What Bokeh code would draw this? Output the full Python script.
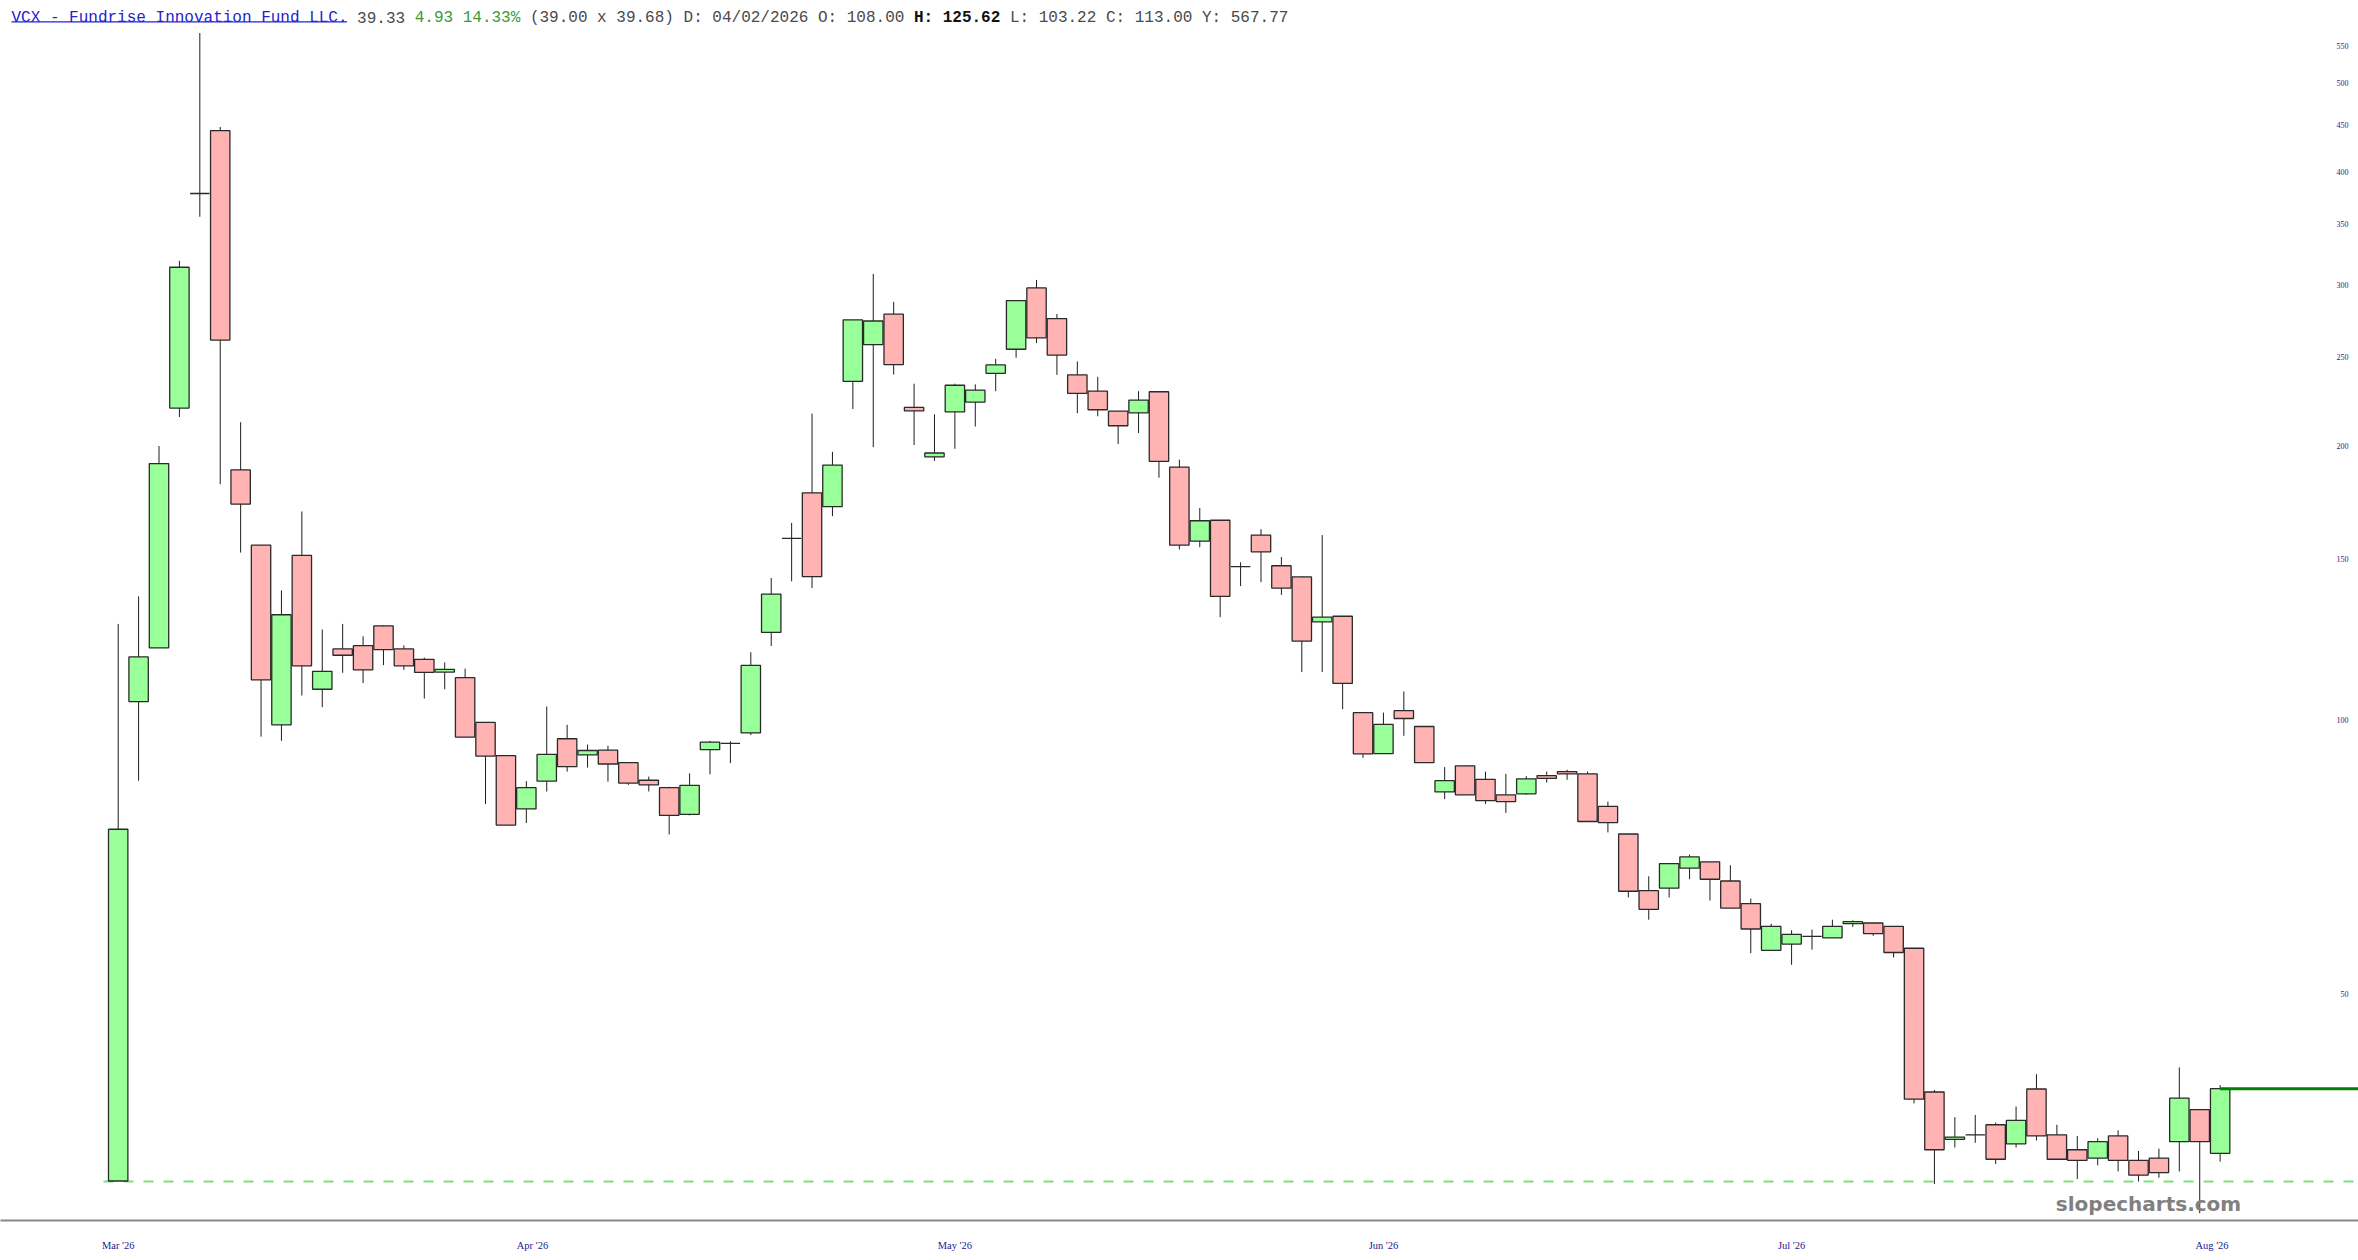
import numpy as np
from bokeh.plotting import figure
from bokeh.models import (Range1d, ColumnDataSource, FixedTicker, Label,
                          LabelSet, BoxAnnotation)
from bokeh.embed import file_html
from bokeh.resources import INLINE

# ---------------- data ----------------
opens = [31.14, 104.7, 119.9, 219.9, 378.4, 443.6, 188.1, 155.5, 98.7, 151.5,
         108.0, 119.6, 120.6, 126.8, 119.6, 116.5, 112.8, 111.2, 99.3, 91.3,
         79.8, 85.6, 95.3, 91.5, 92.6, 89.7, 85.8, 84.2, 78.7, 92.7,
         94.2, 96.7, 124.7, 158.2, 177.5, 171.4, 235.3, 258.2, 278.9, 220.3,
         194.4, 217.8, 223.3, 240.1, 255.2, 298.0, 275.8, 239.2, 229.5, 218.2,
         217.3, 229.2, 189.4, 157.1, 165.6, 147.3, 159.5, 147.6, 143.5, 128.1,
         129.9, 101.8, 91.8, 102.3, 98.3, 83.3, 89.0, 86.0, 82.7, 82.9,
         86.8, 87.7, 87.2, 80.3, 74.9, 64.9, 65.3, 68.7, 69.8, 66.5,
         62.8, 55.8, 56.7, 57.8, 57.6, 59.7, 59.8, 59.3, 56.1, 39.0,
         34.6, 35.0, 35.9, 34.2, 39.3, 35.0, 33.7, 33.0, 34.9, 32.8,
         33.0, 34.4, 37.3, 33.4]
highs = [127.4, 136.6, 199.8, 319.2, 567.77, 447.8, 212.2, 155.5, 138.7, 169.3,
         125.62, 127.4, 123.5, 127.0, 120.7, 117.0, 115.6, 113.8, 99.3, 91.3,
         85.6, 103.4, 98.7, 93.9, 93.6, 89.7, 86.6, 84.4, 87.3, 94.8,
         94.7, 118.6, 143.1, 164.5, 216.9, 196.9, 274.9, 308.8, 287.7, 233.9,
         216.5, 233.9, 233.5, 249.1, 288.6, 304.1, 279.0, 247.4, 238.0, 218.2,
         229.5, 229.2, 193.0, 170.8, 165.6, 148.9, 161.9, 150.9, 143.7, 159.5,
         129.9, 101.8, 101.8, 107.4, 98.3, 88.7, 89.0, 87.7, 87.2, 86.7,
         87.7, 88.1, 87.7, 81.3, 74.9, 67.3, 69.5, 71.1, 69.8, 69.2,
         63.6, 59.7, 58.7, 58.8, 60.3, 60.2, 59.8, 59.3, 56.1, 39.2,
         36.6, 36.8, 36.1, 37.6, 40.8, 35.9, 34.9, 34.7, 35.4, 33.6,
         33.8, 41.5, 37.3, 39.68]
lows = [31.14, 85.7, 119.9, 215.0, 356.8, 181.4, 152.6, 95.8, 94.8, 106.3,
        103.22, 112.6, 109.7, 114.8, 113.4, 105.5, 108.0, 95.7, 80.8, 76.6,
        77.0, 83.4, 87.7, 88.6, 85.5, 84.8, 83.4, 74.8, 78.5, 87.1,
        89.6, 96.2, 120.5, 141.9, 139.5, 167.3, 219.4, 199.2, 239.4, 200.3,
        192.4, 198.4, 209.9, 229.5, 249.8, 259.2, 239.2, 217.1, 215.4, 200.8,
        206.5, 184.4, 153.8, 154.7, 129.6, 140.2, 141.6, 137.1, 112.8, 112.8,
        102.7, 90.8, 91.8, 96.0, 89.7, 81.8, 82.7, 80.8, 79.0, 82.7,
        85.3, 85.9, 77.3, 75.2, 63.8, 60.3, 63.8, 66.8, 63.3, 62.1,
        55.4, 55.8, 53.8, 55.9, 57.6, 59.2, 57.9, 54.8, 37.9, 30.9,
        33.9, 34.3, 32.5, 33.9, 34.5, 32.9, 31.3, 32.4, 31.9, 31.1,
        31.4, 31.9, 28.7, 32.7]
closes = [75.8, 117.2, 191.1, 314.0, 378.4, 261.2, 172.5, 110.6, 130.4, 114.6,
          113.0, 117.7, 113.4, 119.4, 114.6, 112.7, 113.6, 95.7, 91.2, 76.6,
          84.2, 91.6, 88.8, 92.5, 89.4, 85.2, 84.8, 78.5, 84.7, 94.5,
          94.2, 114.7, 137.4, 158.2, 143.6, 190.4, 274.9, 274.1, 245.5, 218.4,
          196.3, 233.0, 230.1, 245.3, 288.6, 262.7, 251.5, 228.3, 219.0, 210.3,
          224.4, 192.2, 155.5, 165.4, 136.6, 147.3, 152.9, 139.5, 122.0, 129.6,
          109.6, 91.7, 98.8, 100.3, 89.7, 85.7, 82.7, 81.5, 81.3, 86.1,
          86.2, 87.2, 77.3, 77.1, 64.8, 61.9, 69.5, 70.7, 66.8, 62.1,
          58.9, 59.3, 58.1, 57.8, 59.3, 60.0, 58.2, 55.5, 38.3, 33.7,
          34.8, 35.0, 32.9, 36.3, 34.9, 32.9, 32.8, 34.4, 32.8, 31.6,
          31.8, 38.4, 34.40, 39.33]

month_ticks = [0, 20.3, 41.0, 62.0, 82.0, 102.6]
month_labels = ["Mar '26", "Apr '26", "May '26", "Jun '26", "Jul '26", "Aug '26"]
price_ticks = [50, 100, 150, 200, 250, 300, 350, 400, 450, 500, 550]
support_level = 31.1
last_price = 39.33

header_parts = [
    ("VCX - Fundrise Innovation Fund LLC.", 0, "#2323d2", "normal"),
    ("39.33", 36, "#4a4a4a", "normal"),
    ("4.93 14.33%", 42, "#3a9a3a", "normal"),
    ("(39.00 x 39.68) D: 04/02/2026 O: 108.00", 54, "#4a4a4a", "normal"),
    ("H: 125.62", 94, "#111111", "bold"),
    ("L: 103.22 C: 113.00 Y: 567.77", 104, "#4a4a4a", "normal"),
]

# ---------------- figure ----------------
W, H = 2358, 1260
BOTTOM = 40
FRAME_H = H - BOTTOM

o = np.array(opens); h = np.array(highs); l = np.array(lows); c = np.array(closes)
idx = np.arange(len(o))
up = c >= o
fill = np.where(up, "#99ff99", "#ffb3b3")

src = ColumnDataSource(dict(x=idx, high=h, low=l,
                            top=np.maximum(o, c), bottom=np.minimum(o, c),
                            fill=fill))

p = figure(width=W, height=H,
           x_range=Range1d(-5.767, 109.78),
           y_range=Range1d(28.18, 616.5),
           y_axis_type="log", y_axis_location=None,
           toolbar_location=None, output_backend="svg",
           min_border_left=0, min_border_right=0, min_border_top=0,
           min_border_bottom=BOTTOM)
p.outline_line_color = None
p.background_fill_color = "white"
p.border_fill_color = "white"
for g in p.grid:
    g.visible = False

# support (dashed) line
x_end = p.x_range.end
p.segment(x0=[idx[0] - 0.72], x1=[x_end], y0=[support_level], y1=[support_level],
          line_color="#7fdf7f", line_width=2, line_dash="10 10")

# wicks
p.segment(x0="x", x1="x", y0="low", y1="high", source=src,
          line_color="#1e1e1e", line_width=1)
# bodies
p.vbar(x="x", width=0.95, top="top", bottom="bottom", source=src,
       fill_color="fill", line_color="#2a2a2a", line_width=1.3)

# last-price line
p.segment(x0=[idx[-1]], x1=[x_end], y0=[last_price], y1=[last_price],
          line_color="#008000", line_width=3)

# x axis
ax = p.xaxis[0]
ax.ticker = FixedTicker(ticks=month_ticks)
ax.major_label_overrides = {t: s for t, s in zip(month_ticks, month_labels)}
ax.major_label_text_font = "Liberation Serif"
ax.major_label_text_font_size = "10.5px"
ax.major_label_text_color = "#1a1a8c"
ax.major_label_standoff = 13
ax.major_tick_line_color = None
ax.minor_tick_line_color = None
ax.axis_line_color = "#888888"
ax.axis_line_width = 2

# price labels inside the plot on the right
tick_src = ColumnDataSource(dict(y=price_ticks, t=[str(v) for v in price_ticks]))
p.add_layout(LabelSet(x=2348, y="y", x_units="screen", y_units="data", text="t",
                      source=tick_src, text_align="right", text_baseline="middle",
                      text_font="DejaVu Sans", text_font_size="8px",
                      text_color="#1e1e8c"))

# header
CW = 9.6
for txt, off, col, style in header_parts:
    p.add_layout(Label(x=11 + CW * off, y=FRAME_H - 17.4, x_units="screen", y_units="screen",
                       text=txt, text_font="Liberation Mono", text_font_size="16px",
                       text_color=col, text_font_style=style,
                       text_baseline="alphabetic", text_align="left"))
p.add_layout(BoxAnnotation(left=11, right=11 + CW * 35 - 0.5, top=FRAME_H - 20.8,
                           bottom=FRAME_H - 22.0,
                           left_units="screen", right_units="screen",
                           top_units="screen", bottom_units="screen",
                           fill_color="#2323d2", fill_alpha=1.0, line_color=None))

# watermark
p.add_layout(Label(x=2148, y=17, x_units="screen", y_units="screen",
                   text="slopecharts.com", text_font="DejaVu Sans",
                   text_font_size="20px", text_font_style="bold",
                   text_color="#808080", text_align="center",
                   text_baseline="middle"))

open("out.html", "w").write(file_html(p, INLINE))
